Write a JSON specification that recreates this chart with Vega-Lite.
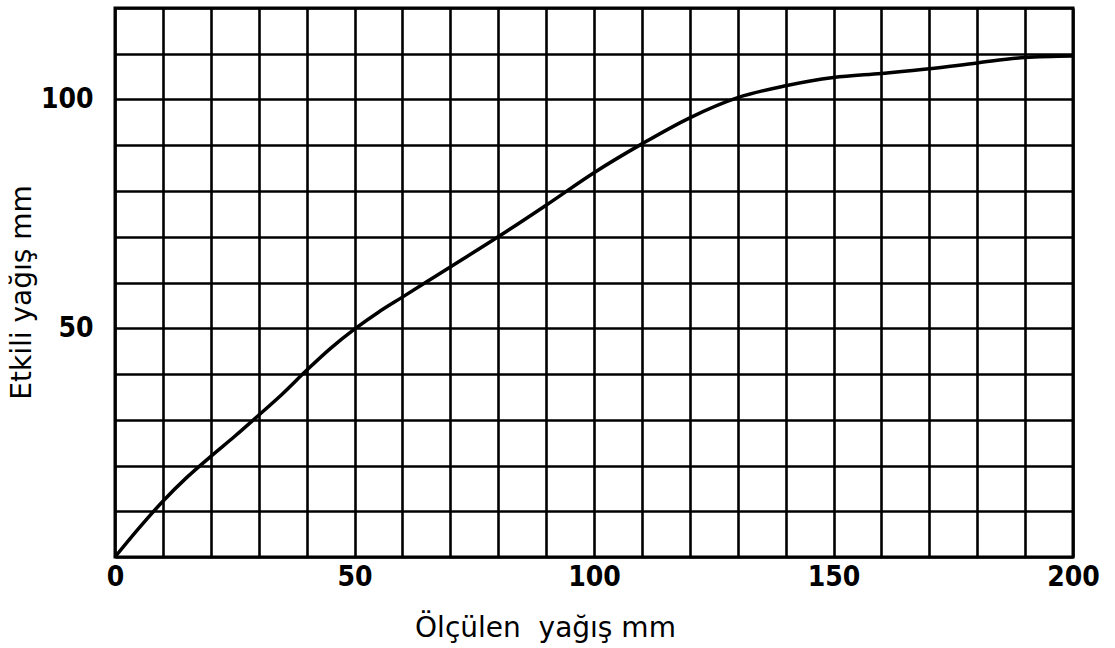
{
  "$schema": "https://vega.github.io/schema/vega-lite/v6.json",
  "autosize": {"type": "none"},
  "width": 958,
  "height": 549,
  "padding": {"left": 115, "top": 8, "right": 42, "bottom": 91},
  "background": "white",
  "config": {
    "view": {"stroke": "black", "strokeWidth": 3},
    "axis": {
      "grid": true,
      "gridColor": "black",
      "gridWidth": 2.6,
      "gridOpacity": 1,
      "domain": false,
      "ticks": false,
      "labelFont": "DejaVu Sans Condensed, Liberation Sans",
      "labelFontWeight": "bold",
      "labelFontSize": 28,
      "labelColor": "black",
      "titleFont": "DejaVu Sans",
      "titleFontWeight": "normal",
      "titleFontSize": 28,
      "titleColor": "black"
    }
  },
  "data": {
    "values": [
      {"olculen": 0, "etkili": 0},
      {"olculen": 5, "etkili": 6.3},
      {"olculen": 10, "etkili": 12.2},
      {"olculen": 15, "etkili": 17.4},
      {"olculen": 20, "etkili": 22},
      {"olculen": 25, "etkili": 26.4},
      {"olculen": 30, "etkili": 31},
      {"olculen": 35, "etkili": 35.7},
      {"olculen": 40, "etkili": 40.8},
      {"olculen": 45, "etkili": 45.6},
      {"olculen": 50, "etkili": 49.8},
      {"olculen": 55, "etkili": 53.5},
      {"olculen": 60, "etkili": 56.8},
      {"olculen": 70, "etkili": 63.4},
      {"olculen": 80, "etkili": 70},
      {"olculen": 90, "etkili": 76.9},
      {"olculen": 100, "etkili": 84},
      {"olculen": 110, "etkili": 90.3},
      {"olculen": 120, "etkili": 96},
      {"olculen": 130, "etkili": 100.4},
      {"olculen": 140, "etkili": 103},
      {"olculen": 150, "etkili": 104.8},
      {"olculen": 160, "etkili": 105.7},
      {"olculen": 170, "etkili": 106.7},
      {"olculen": 180, "etkili": 108},
      {"olculen": 190, "etkili": 109.2},
      {"olculen": 200, "etkili": 109.5}
    ]
  },
  "mark": {"type": "line", "color": "black", "strokeWidth": 3.5, "interpolate": "monotone"},
  "encoding": {
    "x": {
      "field": "olculen",
      "type": "quantitative",
      "scale": {"domain": [0, 200], "nice": false, "zero": true},
      "axis": {
        "values": [0, 10, 20, 30, 40, 50, 60, 70, 80, 90, 100, 110, 120, 130, 140, 150, 160, 170, 180, 190, 200],
        "labelExpr": "datum.value % 50 == 0 ? datum.label : ''",
        "labelPadding": 6,
        "labelFlush": false,
        "labelOverlap": false,
        "title": "Ölçülen\u00a0\u00a0yağış mm",
        "titleX": 430,
        "titleY": 79,
        "titleBaseline": "alphabetic"
      }
    },
    "y": {
      "field": "etkili",
      "type": "quantitative",
      "scale": {"domain": [0, 120], "nice": false, "zero": true},
      "axis": {
        "values": [0, 10, 20, 30, 40, 50, 60, 70, 80, 90, 100, 110, 120],
        "labelExpr": "datum.value == 50 || datum.value == 100 ? datum.label : ''",
        "labelPadding": 22,
        "labelOverlap": false,
        "labelFlush": false,
        "title": "Etkili yağış mm",
        "titleX": -93,
        "titleY": 284,
        "titleAngle": 270,
        "titleBaseline": "middle"
      }
    }
  }
}
